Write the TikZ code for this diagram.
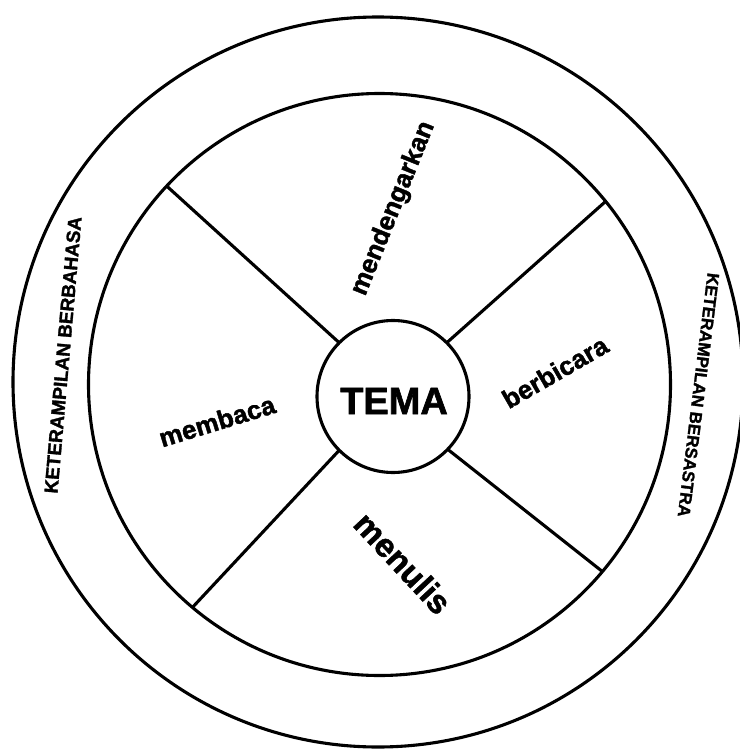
\documentclass[tikz,border=0pt]{standalone}
\usepackage{fontspec}
\setmainfont{Liberation Sans}
\newfontfamily\heavy{Liberation Sans Bold}[FakeBold=1.6]
\begin{document}
\begin{tikzpicture}[x=1pt,y=-1pt,
  ring/.style={circle,draw,line width=3.1pt,inner sep=0pt,outer sep=0pt},
  spoke/.style={line width=3.1pt},
  lbl/.style={font=\heavy\fontsize{26}{26}\selectfont,inner sep=0pt},
  side/.style={font=\heavy\fontsize{19}{19}\selectfont,inner sep=0pt}]
\useasboundingbox (0,0) rectangle (739,749);
\node[ring,minimum size=730pt] (outer) at (378,382) {};
\node[ring,minimum size=582pt] (inner) at (379.5,384.5) {};
\node[ring,minimum size=152pt] (tema) at (393,396.5) {};
\node[inner sep=0pt,font=\heavy\fontsize{38}{38}\selectfont] (tematext) at (394,401) {TEMA};
\draw[spoke] (tema.135) -- (inner.137.7);
\draw[spoke] (tema.45) -- (inner.39.3);
\draw[spoke] (tema.225) -- (inner.230.6);
\draw[spoke] (tema.-44) -- (inner.-40.1);
\node[lbl,rotate=68] (mendengarkan) at (393.5,208.5) {mendengarkan};
\node[lbl,rotate=17] (membaca) at (217,421) {membaca};
\node[lbl,rotate=30] (berbicara) at (555,372) {berbicara};
\node[lbl,rotate=-47,font=\heavy\fontsize{33}{33}\selectfont] (menulis) at (403,563) {menulis};
\node[side,rotate=85] (kbahasa) at (63,355) {KETERAMPILAN BERBAHASA};
\node[side,rotate=-97,font=\heavy\fontsize{17}{17}\selectfont] (ksastra) at (698.5,395) {KETERAMPILAN BERSASTRA};
\end{tikzpicture}
\end{document}
